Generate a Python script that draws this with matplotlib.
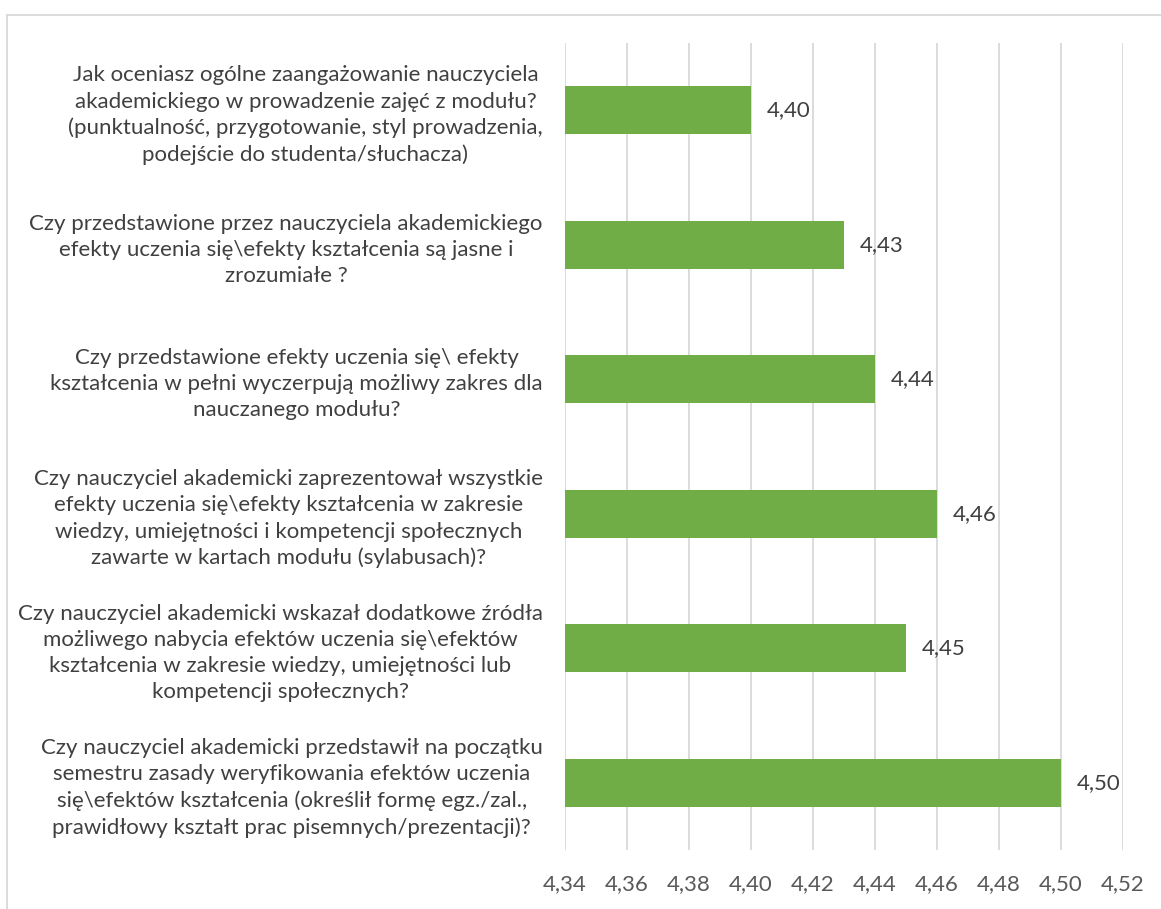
import matplotlib
matplotlib.use("Agg")
import matplotlib.pyplot as plt
from matplotlib.lines import Line2D

plt.rcParams['font.family'] = ['Lato', 'DejaVu Sans']

categories = [
    "Jak oceniasz ogólne zaangażowanie nauczyciela\nakademickiego w prowadzenie zajęć z modułu?\n(punktualność, przygotowanie, styl prowadzenia,\npodejście do studenta/słuchacza)",
    "Czy przedstawione przez nauczyciela akademickiego\nefekty uczenia się\\efekty kształcenia są jasne i\nzrozumiałe ?",
    "Czy przedstawione efekty uczenia się\\ efekty\nkształcenia w pełni wyczerpują możliwy zakres dla\nnauczanego modułu?",
    "Czy nauczyciel akademicki zaprezentował wszystkie\nefekty uczenia się\\efekty kształcenia w zakresie\nwiedzy, umiejętności i kompetencji społecznych\nzawarte w kartach modułu (sylabusach)?",
    "Czy nauczyciel akademicki wskazał dodatkowe źródła\nmożliwego nabycia efektów uczenia się\\efektów\nkształcenia w zakresie wiedzy, umiejętności lub\nkompetencji społecznych?",
    "Czy nauczyciel akademicki przedstawił na początku\nsemestru zasady weryfikowania efektów uczenia\nsię\\efektów kształcenia (określił formę egz./zal.,\nprawidłowy kształt prac pisemnych/prezentacji)?",
]
values = [4.40, 4.43, 4.44, 4.46, 4.45, 4.50]
x_ticks = [4.34, 4.36, 4.38, 4.40, 4.42, 4.44, 4.46, 4.48, 4.50, 4.52]
x_tick_labels = ["4,34", "4,36", "4,38", "4,40", "4,42", "4,44", "4,46", "4,48", "4,50", "4,52"]

W, H = 1161, 909
fig = plt.figure(figsize=(W / 100, H / 100), dpi=100)
fig.patch.set_facecolor("white")

ax = fig.add_axes([565 / W, 1 - 850 / H, (1123 - 565) / W, (850 - 43) / H])

y = list(range(len(categories)))
ax.barh(y, [v - x_ticks[0] for v in values], left=x_ticks[0], height=0.36,
        color="#70AD47", zorder=3)

ax.set_xlim(x_ticks[0], x_ticks[-1])
ax.set_ylim(len(categories) - 0.5, -0.5)
ax.set_xticks(x_ticks)
ax.set_xticklabels(x_tick_labels)
ax.set_yticks(y)
ax.set_yticklabels(categories, multialignment="center", linespacing=1.38)
ax.tick_params(axis="x", length=0, labelsize=16, colors="#595959", pad=17)
ax.tick_params(axis="y", length=0, labelsize=16, colors="#404040", pad=16)

ax.grid(axis="x", color="#D9D9D9", linewidth=1.3, zorder=0)
ax.grid(axis="y", visible=False)
for s in ["top", "right", "bottom", "left"]:
    ax.spines[s].set_visible(False)

for yi, v in zip(y, values):
    ax.annotate(f"{v:.2f}".replace(".", ","), xy=(v, yi), xytext=(11, 0),
                textcoords="offset points", va="center", ha="left",
                fontsize=16, color="#404040")

# chart border (top and left visible)
fig.add_artist(Line2D([7 / W, 7 / W], [0, 1 - 15 / H], transform=fig.transFigure,
                      color="#D9D9D9", linewidth=1.3))
fig.add_artist(Line2D([7 / W, 1], [1 - 15 / H, 1 - 15 / H], transform=fig.transFigure,
                      color="#D9D9D9", linewidth=1.3))

fig.savefig("out.png", dpi=100)
